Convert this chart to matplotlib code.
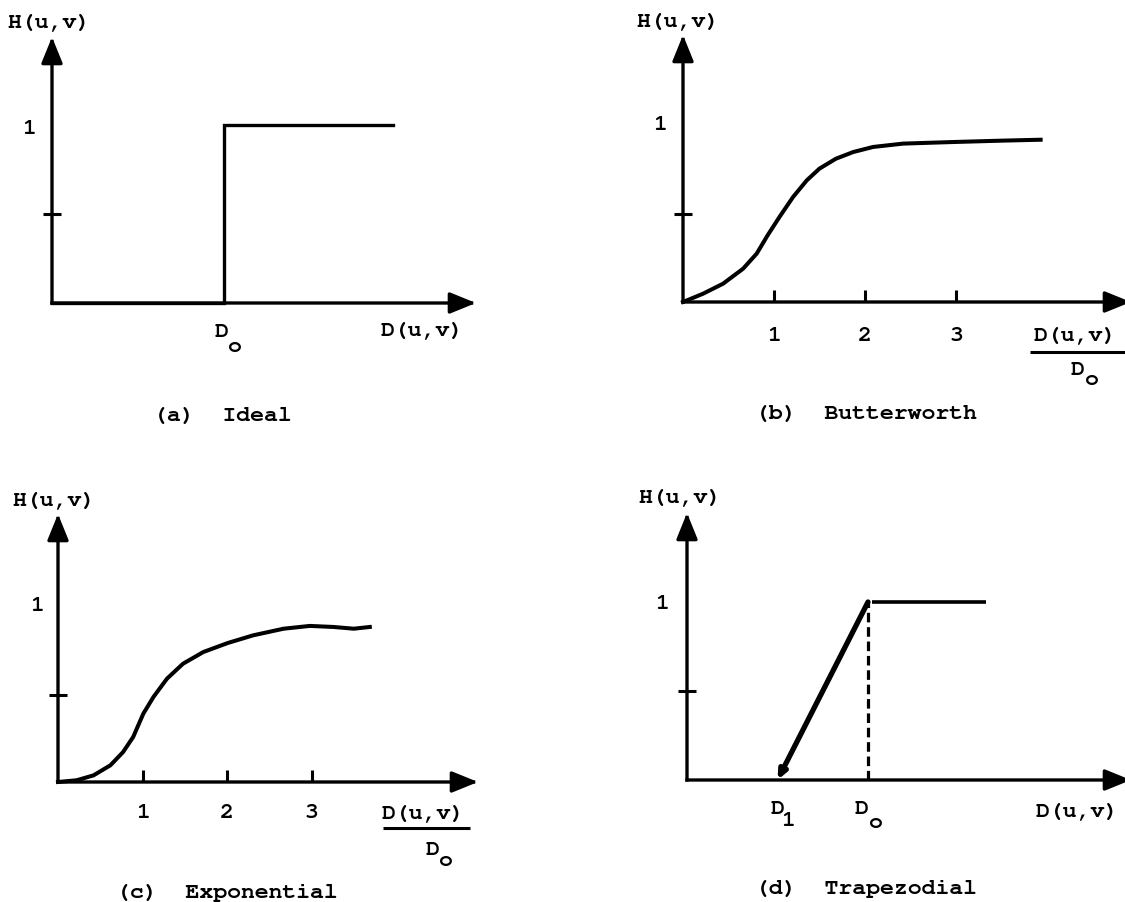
import matplotlib
matplotlib.use("Agg")
import matplotlib.pyplot as plt

plt.rcParams['font.family'] = ['Nimbus Mono PS', 'FreeMono', 'Courier New', 'Courier',
                               'Liberation Mono', 'DejaVu Sans Mono']
plt.rcParams['font.weight'] = 'bold'

# ---------------- data ----------------
ideal_x = [0.0, 1.0, 1.0, 1.98]
ideal_y = [0.0, 0.0, 1.0, 1.0]

butter_x = [0.0, 0.22, 0.44, 0.66, 0.81, 0.93, 1.06, 1.21, 1.36, 1.50, 1.68, 1.87, 2.09, 2.42, 2.97, 3.52, 3.93]
butter_y = [0.0, 0.047, 0.104, 0.189, 0.275, 0.379, 0.483, 0.597, 0.691, 0.758, 0.814, 0.852, 0.881, 0.900, 0.909, 0.917, 0.922]

expo_x = [0.0, 0.22, 0.42, 0.62, 0.77, 0.89, 1.01, 1.13, 1.29, 1.48, 1.72, 2.01, 2.31, 2.67, 2.98, 3.26, 3.50, 3.69]
expo_y = [0.0, 0.010, 0.038, 0.096, 0.172, 0.259, 0.393, 0.489, 0.594, 0.680, 0.747, 0.799, 0.843, 0.881, 0.897, 0.891, 0.881, 0.891]

trap_ramp_x = [1.0, 0.5]
trap_ramp_y = [1.0, 0.0]
trap_flat_x = [1.02, 1.65]
trap_flat_y = [1.0, 1.0]
trap_dash_x = [1.0, 1.0]
trap_dash_y = [0.0, 1.0]

x_ticks_norm = [1, 2, 3]
x_tick_labels = ['1', '2', '3']
half_tick = [0.5]

captions = ['(a)  Ideal', '(b)  Butterworth', '(c)  Exponential', '(d)  Trapezodial']

# ---------------- layout ----------------
W, H = 1125, 902
fig = plt.figure(figsize=(W / 100, H / 100), dpi=100)
fig.patch.set_facecolor('white')

FS = 16.7
AX_LW = 2.4
HEAD = "-|>,head_length=16,head_width=6.5"


def make_panel(rect, origin, xu, yu):
    x0, y0, x1, y1 = rect
    ax = fig.add_axes([x0 / W, 1 - y1 / H, (x1 - x0) / W, (y1 - y0) / H])
    ox, oy = origin
    ax.set_xlim((x0 - ox) / xu, (x1 - ox) / xu)
    ax.set_ylim((oy - y1) / yu, (oy - y0) / yu)
    ax.patch.set_visible(False)
    for s in ax.spines.values():
        s.set_visible(False)
    ax.spines['bottom'].set_position(('data', 0))
    ax.spines['left'].set_position(('data', 0))
    ax.set_xticks([])
    ax.set_yticks(half_tick)
    ax.set_yticklabels([])
    ax.tick_params(axis='y', direction='inout', length=13, width=2.2, color='black')

    def P(px, py):
        return ((px - ox) / xu, (oy - py) / yu)
    return ax, P


def axes_arrows(ax, P, tip_x_px, tip_y_px):
    tx, _ = P(tip_x_px, 0)
    _, ty = P(0, tip_y_px)
    for xy in [(tx, 0), (0, ty)]:
        ax.annotate('', xy=xy, xytext=(0, 0), annotation_clip=False,
                    arrowprops=dict(arrowstyle=HEAD, lw=AX_LW, color='black',
                                    shrinkA=0, shrinkB=0, mutation_scale=1,
                                    capstyle='projecting'))


def txt(ax, P, px, py, s, **kw):
    x, y = P(px, py)
    ax.text(x, y, s, ha='center', va='center', fontsize=kw.pop('fontsize', FS), color='black', **kw)


def sub_label(ax, P, px, py, main, sub, dx, dy):
    x, y = P(px, py)
    ax.text(x, y, main, ha='center', va='center', fontsize=FS, color='black')
    ax.annotate(sub, xy=(x, y), xytext=(dx * 0.72, -dy * 0.72), textcoords='offset points',
                ha='center', va='center', fontsize=FS, color='black', annotation_clip=False)


def frac_label(ax, P, num_px, num_py, bar_x0, bar_x1, bar_y, d_px, d_py, dx, dy):
    txt(ax, P, num_px, num_py, 'D(u,v)')
    bx0, by = P(bar_x0, bar_y)
    bx1, _ = P(bar_x1, bar_y)
    ax.plot([bx0, bx1], [by, by], color='black', lw=2.2, clip_on=False, solid_capstyle='butt')
    sub_label(ax, P, d_px, d_py, 'D', 'o', dx, dy)


# ---- (a) Ideal ----
axA, PA = make_panel((0, 0, 560, 440), (52, 303), 172, 178)
axes_arrows(axA, PA, 476, 37)
axA.plot(ideal_x, ideal_y, color='black', lw=2.4, solid_joinstyle='miter')
txt(axA, PA, 49, 23, 'H(u,v)')
txt(axA, PA, 29, 129, '1')
sub_label(axA, PA, 222, 332, 'D', 'o', 13, 15)
txt(axA, PA, 422, 331, 'D(u,v)')
txt(axA, PA, 222, 416, captions[0])

# ---- (b) Butterworth ----
axB, PB = make_panel((560, 0, 1125, 440), (683, 302), 91, 176)
axes_arrows(axB, PB, 1131, 35)
axB.plot(butter_x, butter_y, color='black', lw=2.9, solid_joinstyle='round')
axB.set_xticks(x_ticks_norm)
axB.set_xticklabels(x_tick_labels)
axB.tick_params(axis='x', direction='in', length=8.6, width=2.2, pad=18, labelsize=FS)
txt(axB, PB, 678, 22, 'H(u,v)')
txt(axB, PB, 660, 125, '1')
frac_label(axB, PB, 1075, 336, 1030, 1126, 352, 1078, 370, 14, 10)
txt(axB, PB, 866, 414, captions[1])

# ---- (c) Exponential ----
axC, PC = make_panel((0, 440, 560, 902), (58, 782), 84.5, 174)
axes_arrows(axC, PC, 478, 514)
axC.plot(expo_x, expo_y, color='black', lw=2.9, solid_joinstyle='round')
axC.set_xticks(x_ticks_norm)
axC.set_xticklabels(x_tick_labels)
axC.tick_params(axis='x', direction='in', length=8.6, width=2.2, pad=16, labelsize=FS)
txt(axC, PC, 54, 501, 'H(u,v)')
txt(axC, PC, 37, 606, '1')
frac_label(axC, PC, 423, 814, 383, 470, 828, 433, 850, 13, 11)
txt(axC, PC, 227, 893, captions[2])

# ---- (d) Trapezoidal ----
axD, PD = make_panel((560, 440, 1125, 902), (687, 780), 181, 178)
axes_arrows(axD, PD, 1131, 513)
axD.annotate('', xy=(trap_ramp_x[1], trap_ramp_y[1]), xytext=(trap_ramp_x[0], trap_ramp_y[0]),
             arrowprops=dict(arrowstyle="-|>,head_length=5,head_width=2.2", lw=3.8,
                             color='black', shrinkA=0, shrinkB=0, mutation_scale=1))
axD.plot(trap_flat_x, trap_flat_y, color='black', lw=2.6, solid_capstyle='butt')
axD.plot(trap_dash_x, trap_dash_y, color='black', lw=2.3, dashes=(3.0, 1.5))
txt(axD, PD, 680, 498, 'H(u,v)')
txt(axD, PD, 662, 604, '1')
sub_label(axD, PD, 778, 809, 'D', '1', 10, 12)
sub_label(axD, PD, 862, 809, 'D', 'o', 14, 14)
txt(axD, PD, 1077, 812, 'D(u,v)')
txt(axD, PD, 866, 889, captions[3])

fig.savefig('out.png', dpi=100, facecolor='white')
